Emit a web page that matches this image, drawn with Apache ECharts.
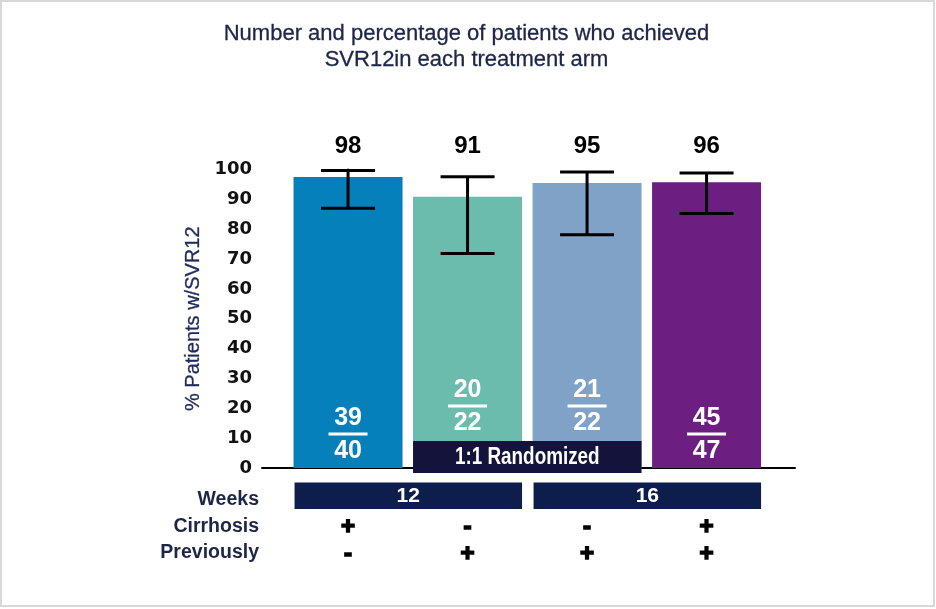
<!DOCTYPE html>
<html><head><meta charset="utf-8">
<script src="https://cdn.jsdelivr.net/npm/echarts/dist/echarts.min.js"></script>
<style>html,body{margin:0;padding:0;background:#fff}#c{width:936px;height:609px}</style>
</head><body><div id="c"></div>
<script>
// ---- data ----
const titleLines = ['Number and percentage of patients who achieved', 'SVR12in each treatment arm'];
const yAxisName = '% Patients w/SVR12';
const arms = ['Arm 1', 'Arm 2', 'Arm 3', 'Arm 4'];
const pctValues = [97.5, 90.9, 95.5, 95.7];
const pctLabels = ['98', '91', '95', '96'];
const ciLow = [87.0, 71.9, 78.1, 85.3];
const ciHigh = [99.7, 97.6, 99.2, 98.8];
const responders = [39, 20, 21, 45];
const totals = [40, 22, 22, 47];
const randomized = [false, true, true, false];
const randomizedLabel = '1:1 Randomized';
const rowLabels = ['Weeks', 'Cirrhosis', 'Previously'];
const weeks = ['12', '12', '16', '16'];
const cirrhosis = ['+', '-', '-', '+'];
const previously = ['-', '+', '+', '+'];
const yMin = 0, yMax = 100, yStep = 10;

// ---- style ----
const barColors = ['#0580bb', '#6cbcae', '#7fa2c6', '#6c1f80'];
const navy = '#1d2548';
const boxNavy = '#0d1d4c';
const randNavy = '#13133b';
const sans = '"Liberation Sans",Arial,sans-serif';
const BAR_W = 109;
const X_MIN = -0.72, X_MAX = 3.74;
const NARROW = 0.82;

// derived groups
const weekGroups = [];
weeks.forEach((w, i) => {
  const g = weekGroups[weekGroups.length - 1];
  if (g && g.label === w) g.last = i; else weekGroups.push({first: i, last: i, label: w});
});
const randIdx = randomized.map((r, i) => r ? i : -1).filter(i => i >= 0);

const chart = echarts.init(document.getElementById('c'), null, {renderer: 'canvas'});
const option = {
  animation: false,
  backgroundColor: '#fff',
  title: {
    text: titleLines.join('\n'),
    left: 461.5, top: 16, textAlign: 'center',
    textStyle: {fontFamily: sans, fontSize: 22, fontWeight: 'normal', color: navy, lineHeight: 26,
      textBorderColor: navy, textBorderWidth: 0.3}
  },
  graphic: [{
    type: 'rect', shape: {x: 1, y: 1, width: 933, height: 605},
    style: {fill: 'none', stroke: '#d8d8d8', lineWidth: 2}, silent: true, z: -1
  }],
  grid: [
    {left: 262, right: 141, top: 169.5, bottom: 141},
    {left: 262, right: 141, top: 486.75, bottom: 42.75}
  ],
  xAxis: [
    {type: 'value', gridIndex: 0, min: X_MIN, max: X_MAX,
     axisLine: {show: true, onZero: false, lineStyle: {color: '#000', width: 2}},
     axisTick: {show: false}, axisLabel: {show: false}, splitLine: {show: false}},
    {type: 'value', gridIndex: 1, min: X_MIN, max: X_MAX, show: false}
  ],
  yAxis: [
    {type: 'value', gridIndex: 0, min: yMin, max: yMax, interval: yStep,
     name: yAxisName, nameLocation: 'middle', nameGap: 57, nameRotate: 90,
     nameTextStyle: {fontFamily: sans, fontSize: 20, color: '#1f2a5c', textBorderColor: '#1f2a5c', textBorderWidth: 0.3},
     axisLine: {show: true, lineStyle: {color: '#000', width: 2}},
     axisTick: {show: true, length: 7, lineStyle: {color: '#000', width: 2}},
     axisLabel: {margin: 10, fontFamily: '"DejaVu Sans",sans-serif', fontWeight: 'bold', fontSize: 18, color: '#111'},
     splitLine: {show: false}},
    {type: 'category', gridIndex: 1, data: rowLabels, inverse: true,
     axisLine: {show: false}, axisTick: {show: false},
     axisLabel: {interval: 0, margin: 3, fontFamily: sans, fontWeight: 'bold', fontSize: 19.5, color: navy}}
  ],
  series: [
    {
      type: 'bar', name: 'SVR12', xAxisIndex: 0, yAxisIndex: 0, barWidth: BAR_W,
      data: pctValues.map((v, i) => ({value: [i, v], itemStyle: {color: barColors[i]}})),
      z: 2
    },
    {
      type: 'custom', name: 'CI', xAxisIndex: 0, yAxisIndex: 0, z: 3,
      data: arms.map((a, i) => [i, ciLow[i], ciHigh[i]]),
      renderItem(params, api) {
        const x = api.value(0);
        const pH = api.coord([x, api.value(2)]);
        const pL = api.coord([x, api.value(1)]);
        const h = 27;
        const st = {stroke: '#000', lineWidth: 3};
        return {type: 'group', children: [
          {type: 'line', shape: {x1: pH[0], y1: pH[1], x2: pL[0], y2: pL[1]}, style: st},
          {type: 'line', shape: {x1: pH[0] - h, y1: pH[1], x2: pH[0] + h, y2: pH[1]}, style: st},
          {type: 'line', shape: {x1: pL[0] - h, y1: pL[1], x2: pL[0] + h, y2: pL[1]}, style: st}
        ]};
      }
    },
    {
      type: 'custom', name: 'pct', xAxisIndex: 0, yAxisIndex: 0, z: 3,
      data: arms.map((a, i) => [i, yMax]),
      renderItem(params, api) {
        const p = api.coord([api.value(0), api.value(1)]);
        return {type: 'text', x: p[0], y: p[1] - 23.5, style: {
          text: pctLabels[params.dataIndex], fill: '#000', align: 'center', verticalAlign: 'middle',
          font: 'bold 24px "Liberation Sans", Arial, sans-serif'}};
      }
    },
    {
      type: 'custom', name: 'fractions', xAxisIndex: 0, yAxisIndex: 0, z: 4,
      data: arms.map((a, i) => [i, 0]),
      renderItem(params, api) {
        const i = params.dataIndex;
        const p = api.coord([api.value(0), 0]);
        const ly = p[1] - (randomized[i] ? 62 : 34);
        const font = 'bold 25px "Liberation Sans", Arial, sans-serif';
        return {type: 'group', children: [
          {type: 'text', x: p[0], y: ly - 16, style: {text: String(responders[i]), fill: '#fff', align: 'center', verticalAlign: 'middle', font}},
          {type: 'rect', shape: {x: p[0] - 19.5, y: ly - 1.5, width: 39, height: 3}, style: {fill: '#fff'}},
          {type: 'text', x: p[0], y: ly + 17.5, style: {text: String(totals[i]), fill: '#fff', align: 'center', verticalAlign: 'middle', font}}
        ]};
      }
    },
    {
      type: 'custom', name: 'randomized', xAxisIndex: 0, yAxisIndex: 0, z: 5,
      data: randIdx.length ? [[randIdx[0], randIdx[randIdx.length - 1]]] : [],
      renderItem(params, api) {
        const a = api.coord([api.value(0), 0]);
        const b = api.coord([api.value(1), 0]);
        const x0 = a[0] - BAR_W / 2, x1 = b[0] + BAR_W / 2;
        const y0 = a[1] - 27, y1 = a[1] + 5;
        return {type: 'group', children: [
          {type: 'rect', shape: {x: x0, y: y0, width: x1 - x0, height: y1 - y0}, style: {fill: randNavy}},
          {type: 'text', x: (x0 + x1) / 2, y: (y0 + y1) / 2 + 1, scaleX: NARROW, style: {text: randomizedLabel, fill: '#fff', align: 'center', verticalAlign: 'middle',
            font: 'bold 23px "Liberation Sans", Arial, sans-serif'}}
        ]};
      }
    },
    {
      type: 'custom', name: 'weeks', xAxisIndex: 1, yAxisIndex: 1, z: 3,
      data: weekGroups.map(g => [g.first, g.last, 0]),
      renderItem(params, api) {
        const g = weekGroups[params.dataIndex];
        const a = api.coord([api.value(0), 0]);
        const b = api.coord([api.value(1), 0]);
        const x0 = a[0] - BAR_W / 2 + 1, x1 = b[0] + BAR_W / 2;
        const c = a[1];
        return {type: 'group', children: [
          {type: 'rect', shape: {x: x0, y: c - 17.5, width: x1 - x0, height: 26.5}, style: {fill: boxNavy}},
          {type: 'text', x: (x0 + x1) / 2, y: c - 4, style: {text: g.label, fill: '#fff', align: 'center', verticalAlign: 'middle',
            font: 'bold 21px "Liberation Sans", Arial, sans-serif'}}
        ]};
      }
    },
    {
      type: 'custom', name: 'signs', xAxisIndex: 1, yAxisIndex: 1, z: 3,
      data: [].concat(
        cirrhosis.map((s, i) => [i, 1]),
        previously.map((s, i) => [i, 2])
      ),
      renderItem(params, api) {
        const row = api.value(1);
        const i = api.value(0);
        const s = row === 1 ? cirrhosis[i] : previously[i];
        const p = api.coord([i, row]);
        return {type: 'text', x: p[0], y: p[1] + 1, style: {text: s, fill: '#000', align: 'center', verticalAlign: 'middle',
          stroke: '#000', lineWidth: 1.6,
          font: 'bold 24px "Liberation Sans", Arial, sans-serif'}};
      }
    }
  ]
};
chart.setOption(option);
</script>
</body></html>
